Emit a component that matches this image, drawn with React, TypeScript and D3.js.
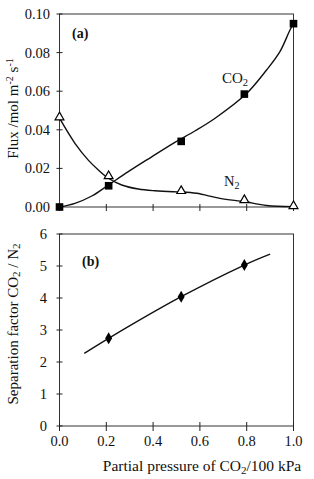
import React from 'react';
import { scaleLinear, line, curveCatmullRom, symbol, symbolSquare, symbolTriangle, symbolDiamond } from 'd3';

// partial pressure of CO2 (/100 kPa) for the measured points
const pressure = [0, 0.21, 0.52, 0.79, 1.0];
const co2Flux = [0, 0.011, 0.034, 0.0585, 0.095];
const n2Flux = [0.046, 0.0155, 0.0078, 0.0031, 0];

// fitted curves
const co2CurveX = [0, 0.066, 0.138, 0.209, 0.294, 0.394, 0.486, 0.58, 0.665, 0.797, 0.885, 0.942, 0.985, 1.0];
const co2CurveY = [0, 0.0019, 0.0057, 0.0114, 0.0183, 0.026, 0.033, 0.0395, 0.046, 0.0585, 0.071, 0.0805, 0.0917, 0.095];
const n2CurveX = [0, 0.066, 0.123, 0.166, 0.209, 0.266, 0.337, 0.408, 0.486, 0.522, 0.586, 0.686, 0.793, 0.885, 1.0];
const n2CurveY = [0.046, 0.033, 0.0243, 0.0192, 0.0149, 0.0114, 0.0093, 0.0084, 0.0079, 0.0078, 0.0071, 0.0045, 0.0027, 0.0008, 0.0002];

// separation factor
const sepX = [0.21, 0.52, 0.79];
const sepY = [2.74, 4.04, 5.03];
const sepCurveX = [0.106, 0.21, 0.52, 0.79, 0.9];
const sepCurveY = [2.27, 2.74, 4.04, 5.03, 5.37];

const fluxTicks = [0, 0.02, 0.04, 0.06, 0.08, 0.1];
const sepTicks = [0, 1, 2, 3, 4, 5, 6];
const xTicks = [0, 0.2, 0.4, 0.6, 0.8, 1.0];

const W = 314;
const H = 479;
const font = '"Liberation Serif", "Times New Roman", serif';

const App: React.FC = () => {
  const x = scaleLinear().domain([0, 1]).range([59.5, 293.5]);
  const yTop = scaleLinear().domain([0, 0.1]).range([207, 14]);
  const yBot = scaleLinear().domain([0, 6]).range([426, 234]);

  const pts = (xs: number[], ys: number[]) => xs.map((v, i) => [v, ys[i]] as [number, number]);

  const topLine = line<[number, number]>()
    .x(d => x(d[0]))
    .y(d => yTop(d[1]))
    .curve(curveCatmullRom.alpha(0.5));
  const botLine = line<[number, number]>()
    .x(d => x(d[0]))
    .y(d => yBot(d[1]))
    .curve(curveCatmullRom.alpha(0.5));

  const sq = symbol().type(symbolSquare).size(58)()!;
  const tri = symbol().type(symbolTriangle).size(34)()!;
  const dia = symbol().type(symbolDiamond).size(42)()!;

  return (
    <svg width={W} height={H} style={{ position: 'absolute', left: 0, top: 0, background: '#fff', fontFamily: font }}
      fill="#111">
      {/* ---------- panel (a) ---------- */}
      <rect x={x(0)} y={yTop(0.1)} width={x(1) - x(0)} height={yTop(0) - yTop(0.1)}
        fill="none" stroke="#333" strokeWidth={1} />
      {fluxTicks.map(t => (
        <g key={'fy' + t}>
          <line x1={x(0) - 3} x2={x(0) + 3} y1={yTop(t)} y2={yTop(t)} stroke="#222" />
          <text x={50} y={yTop(t)} dy="0.35em" textAnchor="end" fontSize={14.5}>{t.toFixed(2)}</text>
        </g>
      ))}
      {xTicks.map(t => (
        <line key={'fx' + t} x1={x(t)} x2={x(t)} y1={yTop(0) - 3} y2={yTop(0) + 4} stroke="#222" />
      ))}
      <path d={topLine(pts(n2CurveX, n2CurveY))!} fill="none" stroke="#111" strokeWidth={1.4} />
      <path d={topLine(pts(co2CurveX, co2CurveY))!} fill="none" stroke="#111" strokeWidth={1.4} />
      {pressure.map((p, i) => (
        <path key={'sq' + i} d={sq} transform={`translate(${x(p)},${yTop(co2Flux[i])})`} fill="#000" />
      ))}
      {pressure.map((p, i) => (
        <path key={'tr' + i} d={tri} transform={`translate(${x(p)},${yTop(n2Flux[i]) - 1})`}
          fill="#fff" stroke="#000" strokeWidth={1.2} />
      ))}
      <text x={72} y={38} fontSize={14} fontWeight="bold">(a)</text>
      <text x={222} y={83} fontSize={15}>CO<tspan fontSize={10.5} dy={3}>2</tspan></text>
      <text x={224} y={186} fontSize={14.5}>N<tspan fontSize={10} dy={3}>2</tspan></text>
      <text transform={`translate(18,${yTop(0.05) - 2}) rotate(-90)`} textAnchor="middle" fontSize={15}>
        Flux /mol m<tspan fontSize={10} dy={-5}>-2</tspan><tspan dy={5}> s</tspan><tspan fontSize={10} dy={-5}>-1</tspan>
      </text>

      {/* ---------- panel (b) ---------- */}
      <rect x={x(0)} y={yBot(6)} width={x(1) - x(0)} height={yBot(0) - yBot(6)}
        fill="none" stroke="#333" strokeWidth={1} />
      {sepTicks.map(t => (
        <g key={'sy' + t}>
          <line x1={x(0) - 3} x2={x(0) + 3} y1={yBot(t)} y2={yBot(t)} stroke="#222" />
          <text x={47} y={yBot(t)} dy="0.35em" textAnchor="end" fontSize={14.5}>{t}</text>
        </g>
      ))}
      {xTicks.map(t => (
        <g key={'sx' + t}>
          <line x1={x(t)} x2={x(t)} y1={yBot(0) - 4} y2={yBot(0) + 5} stroke="#222" />
          <text x={x(t)} y={446} textAnchor="middle" fontSize={14.5}>{t.toFixed(1)}</text>
        </g>
      ))}
      <path d={botLine(pts(sepCurveX, sepCurveY))!} fill="none" stroke="#111" strokeWidth={1.4} />
      {sepX.map((p, i) => (
        <path key={'di' + i} d={dia} transform={`translate(${x(p)},${yBot(sepY[i])})`} fill="#000" />
      ))}
      <text x={82} y={266} fontSize={14} fontWeight="bold">(b)</text>
      <text transform={`translate(18,${yBot(3) - 6}) rotate(-90)`} textAnchor="middle" fontSize={15}>
        Separation factor CO<tspan fontSize={11} dy={2}>2</tspan><tspan dy={-2}> / N</tspan><tspan fontSize={11} dy={2}>2</tspan>
      </text>
      <text x={202} y={471} textAnchor="middle" fontSize={15.5}>
        Partial pressure of CO<tspan fontSize={11} dy={3}>2</tspan><tspan dy={-3}>/100 kPa</tspan>
      </text>
    </svg>
  );
};

export default App;
